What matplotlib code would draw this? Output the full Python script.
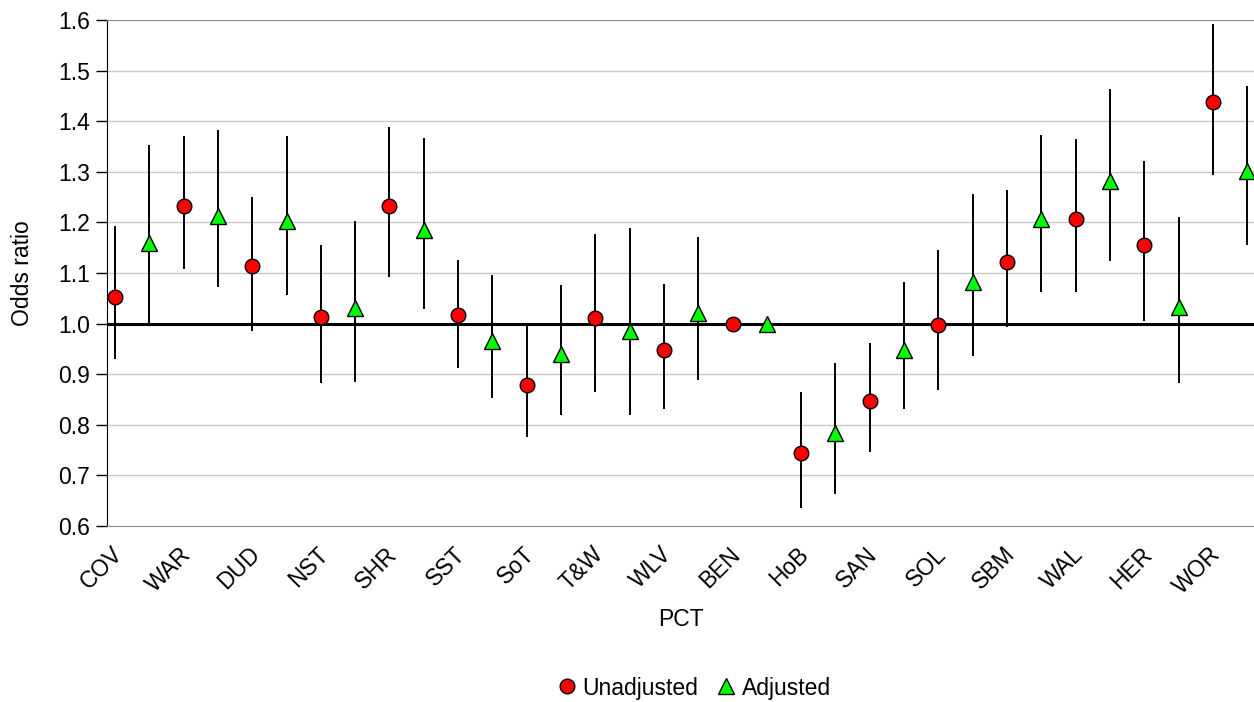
import numpy as np
import matplotlib
matplotlib.use("Agg")
import matplotlib.pyplot as plt
from matplotlib.transforms import ScaledTranslation

plt.rcParams["font.family"] = ["Liberation Sans", "DejaVu Sans"]

# PCT codes
pcts = ["COV", "WAR", "DUD", "NST", "SHR", "SST", "SoT", "T&W", "WLV",
        "BEN", "HoB", "SAN", "SOL", "SBM", "WAL", "HER", "WOR"]

# unadjusted odds ratios with 95% CI
unadj = [1.053, 1.233, 1.113, 1.014, 1.233, 1.017, 0.879, 1.011, 0.947,
         1.000, 0.744, 0.848, 0.998, 1.122, 1.206, 1.155, 1.437]
unadj_lo = [0.930, 1.108, 0.985, 0.883, 1.093, 0.912, 0.775, 0.864, 0.831,
            1.000, 0.636, 0.747, 0.868, 0.993, 1.063, 1.006, 1.294]
unadj_hi = [1.192, 1.370, 1.250, 1.156, 1.388, 1.126, 1.000, 1.177, 1.078,
            1.000, 0.865, 0.962, 1.145, 1.265, 1.364, 1.322, 1.593]

# adjusted odds ratios with 95% CI
adj = [1.159, 1.213, 1.202, 1.031, 1.184, 0.966, 0.939, 0.985, 1.021,
       1.000, 0.783, 0.947, 1.082, 1.206, 1.281, 1.033, 1.301]
adj_lo = [0.998, 1.072, 1.057, 0.885, 1.029, 0.852, 0.819, 0.819, 0.889,
          1.000, 0.663, 0.831, 0.935, 1.063, 1.123, 0.883, 1.155]
adj_hi = [1.352, 1.382, 1.370, 1.202, 1.367, 1.096, 1.076, 1.189, 1.171,
          1.000, 0.922, 1.082, 1.256, 1.373, 1.464, 1.211, 1.469]

n = len(pcts)
x_u = np.arange(n) * 2
x_a = x_u + 1
fs = 16.5

fig = plt.figure(figsize=(12.54, 7.02), dpi=100)
ax = fig.add_axes([107 / 1254, 1 - 526 / 702, 1 - 107 / 1254, (526 - 20) / 702])

ax.set_ylim(0.6, 1.6)
ax.set_xlim(-0.233, 33.2)
ax.set_yticks(np.arange(0.6, 1.61, 0.1))
ax.yaxis.grid(True, color="#c8c8c8", linewidth=1)
ax.set_axisbelow(True)
ax.axhline(1.0, color="black", linewidth=2.2, zorder=2)

ax.vlines(x_u, unadj_lo, unadj_hi, color="black", linewidth=1.4, zorder=3)
ax.vlines(x_a, adj_lo, adj_hi, color="black", linewidth=1.4, zorder=3)
ax.plot(x_u, unadj, linestyle="none", marker="o", markersize=10.5,
        markerfacecolor="#ff0000", markeredgecolor="black", markeredgewidth=1,
        label="Unadjusted", zorder=4)
ax.plot(x_a, adj, linestyle="none", marker="^", markersize=11.5,
        markerfacecolor="#00ff00", markeredgecolor="black", markeredgewidth=1,
        label="Adjusted", zorder=4)

ax.set_yticklabels([f"{v:.1f}" for v in np.arange(0.6, 1.61, 0.1)], fontsize=fs)
ax.tick_params(axis="y", direction="out", length=8, width=1, pad=4)
ax.set_xticks(x_u)
ax.set_xticklabels(pcts, fontsize=fs, rotation=45, ha="right",
                   rotation_mode="anchor")
ax.tick_params(axis="x", length=0, pad=12)
shift = ScaledTranslation(-4 / 100, 0, fig.dpi_scale_trans)
for lbl in ax.get_xticklabels():
    lbl.set_transform(lbl.get_transform() + shift)

ax.spines["right"].set_visible(False)
ax.spines["top"].set_color("#909090")
ax.spines["bottom"].set_color("#909090")
ax.spines["left"].set_color("black")

ax.set_ylabel("Odds ratio", fontsize=fs)
ax.yaxis.set_label_coords(-73 / 1147, 0.5)
ax.set_xlabel("PCT", fontsize=fs)
ax.xaxis.set_label_coords(0.5, -(608 - 526) / 506)

fig.legend(loc="center", bbox_to_anchor=(692 / 1254, 1 - 688 / 702), ncol=2,
           frameon=False, fontsize=fs, handletextpad=0.1, columnspacing=0.6,
           handlelength=1.2)

fig.savefig("out.png", dpi=100)
